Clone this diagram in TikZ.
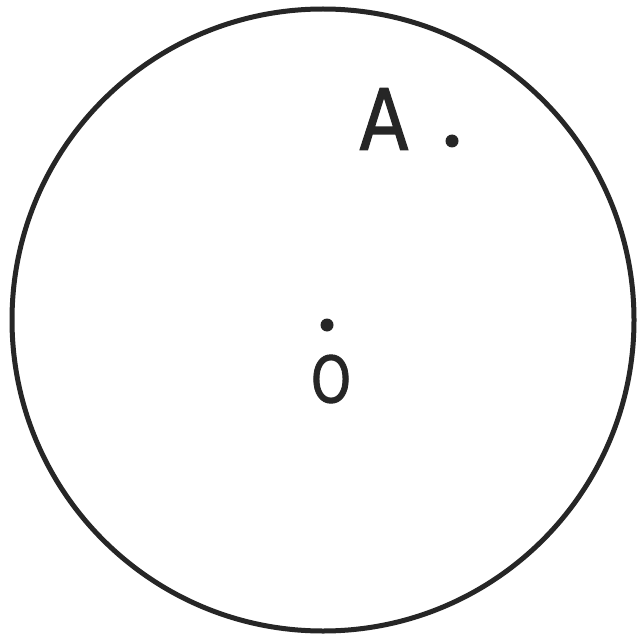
\documentclass[tikz,border=0pt]{standalone}
\usepackage{fontspec}
\setmainfont{DejaVu Sans}
\newfontfamily\handfont[FakeBold=1.6]{DejaVu Sans}
\definecolor{ink}{HTML}{262626}
\begin{document}
\begin{tikzpicture}[x=1pt,y=-1pt,
  pt/.style={circle,fill=ink,inner sep=0pt,minimum size=13pt},
  lbl/.style={text=ink,inner sep=0pt}]
\useasboundingbox (0,0) rectangle (637,639);
\fill[white] (0,0) rectangle (637,639);
\draw[ink,line width=5pt] (323,320) circle (311);
\node[pt] (A) at (452,141) {};
\node[pt] (O) at (327,325) {};
\node[lbl,font=\handfont\fontsize{84}{84}\selectfont,xscale=0.85] (lA) at (384,119) {A};
\node[lbl,font=\handfont\fontsize{64}{64}\selectfont,xscale=0.8] (lO) at (331,379) {O};
\end{tikzpicture}
\end{document}
